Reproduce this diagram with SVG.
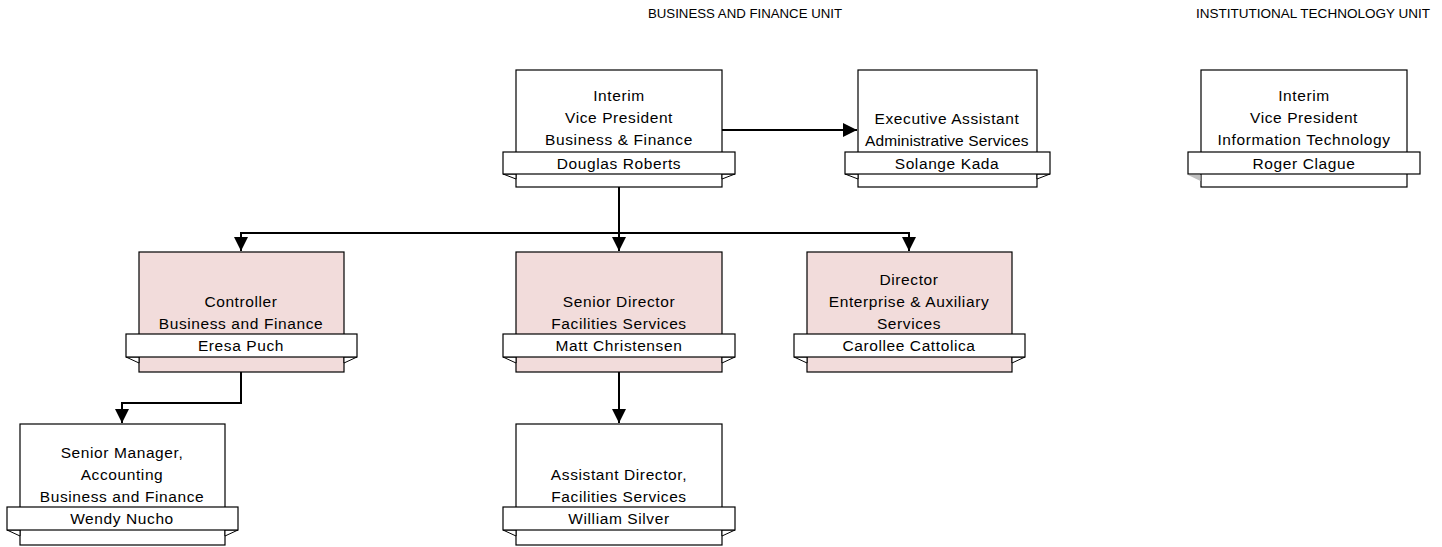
<svg xmlns="http://www.w3.org/2000/svg" width="1442" height="547" viewBox="0 0 1442 547">
<style>
text{font-family:"Liberation Sans",Arial,sans-serif;font-size:15.5px;fill:#000;text-anchor:middle;letter-spacing:0.6px}
.hd{font-size:12px;text-anchor:start;letter-spacing:0}
.box{fill:#fff;stroke:#000;stroke-width:1.2}
.pink{fill:#f2dcdb;stroke:#000;stroke-width:1.2}
.ban{fill:#fff;stroke:#000;stroke-width:1.2}
.tab{fill:#fff;stroke:#000;stroke-width:1}
.tabg{fill:#c0c0c0;stroke:none}
.ln{fill:none;stroke:#000;stroke-width:2}
</style>
<defs>
<marker id="ah" viewBox="0 0 10 10" refX="10" refY="5" markerWidth="7" markerHeight="7" orient="auto" markerUnits="strokeWidth">
<path d="M0,0 L10,5 L0,10 z" fill="#000"/>
</marker>
</defs>
<text class="hd" x="648" y="18" textLength="194" lengthAdjust="spacingAndGlyphs">BUSINESS AND  FINANCE UNIT</text>
<text class="hd" x="1196" y="18" textLength="234" lengthAdjust="spacingAndGlyphs">INSTITUTIONAL TECHNOLOGY UNIT</text>

<g id="connectors">
<path class="ln" d="M722,130 H857" marker-end="url(#ah)"/>
<path class="ln" d="M619,187 V233 H241 V251" marker-end="url(#ah)"/>
<path class="ln" d="M619,233 V251" marker-end="url(#ah)"/>
<path class="ln" d="M619,233 H909 V251" marker-end="url(#ah)"/>
<path class="ln" d="M241,372 V403 H122 V423" marker-end="url(#ah)"/>
<path class="ln" d="M619,372 V423" marker-end="url(#ah)"/>
</g>

<g id="vp-business">
<rect class="box" x="516" y="70" width="206" height="117"/>
<text x="619" y="101">Interim</text>
<text x="619" y="123">Vice President</text>
<text x="619" y="145">Business &amp; Finance</text>
<path class="tab" d="M503,174 L516,174 L516,179 z"/>
<path class="tab" d="M735,174 L722,174 L722,179 z"/>
<rect class="ban" x="503" y="152" width="232" height="22"/>
<text x="619" y="169">Douglas Roberts</text>
</g>

<g id="exec-assistant">
<rect class="box" x="858" y="70" width="179" height="117"/>
<text x="947" y="124">Executive Assistant</text>
<text x="947" y="146" textLength="164" lengthAdjust="spacing">Administrative Services</text>
<path class="tab" d="M845,174 L858,174 L858,179 z"/>
<path class="tab" d="M1050,174 L1037,174 L1037,179 z"/>
<rect class="ban" x="845" y="152" width="205" height="22"/>
<text x="947" y="169">Solange Kada</text>
</g>

<g id="vp-it">
<rect class="box" x="1201" y="70" width="206" height="117"/>
<text x="1304" y="101">Interim</text>
<text x="1304" y="123">Vice President</text>
<text x="1304" y="145">Information Technology</text>
<path class="tabg" d="M1188,175 L1200.5,175 L1200.5,181 z"/>
<rect class="ban" x="1188" y="152" width="232" height="22"/>
<text x="1304" y="169">Roger Clague</text>
</g>

<g id="controller">
<rect class="pink" x="139" y="252" width="205" height="120"/>
<text x="241" y="307">Controller</text>
<text x="241" y="329">Business and Finance</text>
<path class="tab" d="M126,357 L139,357 L139,363 z"/>
<path class="tab" d="M357,357 L344,357 L344,363 z"/>
<rect class="ban" x="126" y="334" width="231" height="23"/>
<text x="241" y="351">Eresa Puch</text>
</g>

<g id="senior-director">
<rect class="pink" x="516" y="252" width="206" height="120"/>
<text x="619" y="307">Senior Director</text>
<text x="619" y="329">Facilities Services</text>
<path class="tab" d="M503,357 L516,357 L516,363 z"/>
<path class="tab" d="M735,357 L722,357 L722,363 z"/>
<rect class="ban" x="503" y="334" width="232" height="23"/>
<text x="619" y="351">Matt Christensen</text>
</g>

<g id="director">
<rect class="pink" x="807" y="252" width="205" height="120"/>
<text x="909" y="285">Director</text>
<text x="909" y="307">Enterprise &amp; Auxiliary</text>
<text x="909" y="329">Services</text>
<path class="tab" d="M794,357 L807,357 L807,363 z"/>
<path class="tab" d="M1025,357 L1012,357 L1012,363 z"/>
<rect class="ban" x="794" y="334" width="231" height="23"/>
<text x="909" y="351">Carollee Cattolica</text>
</g>

<g id="senior-manager">
<rect class="box" x="20" y="424" width="205" height="121"/>
<text x="122" y="458">Senior Manager,</text>
<text x="122" y="480">Accounting</text>
<text x="122" y="502">Business and Finance</text>
<path class="tab" d="M7,530 L20,530 L20,536 z"/>
<path class="tab" d="M238,530 L225,530 L225,536 z"/>
<rect class="ban" x="7" y="507" width="231" height="23"/>
<text x="122" y="524">Wendy Nucho</text>
</g>

<g id="assistant-director">
<rect class="box" x="516" y="424" width="206" height="121"/>
<text x="619" y="480">Assistant Director,</text>
<text x="619" y="502">Facilities Services</text>
<path class="tab" d="M503,530 L516,530 L516,536 z"/>
<path class="tab" d="M735,530 L722,530 L722,536 z"/>
<rect class="ban" x="503" y="507" width="232" height="23"/>
<text x="619" y="524">William Silver</text>
</g>
</svg>
